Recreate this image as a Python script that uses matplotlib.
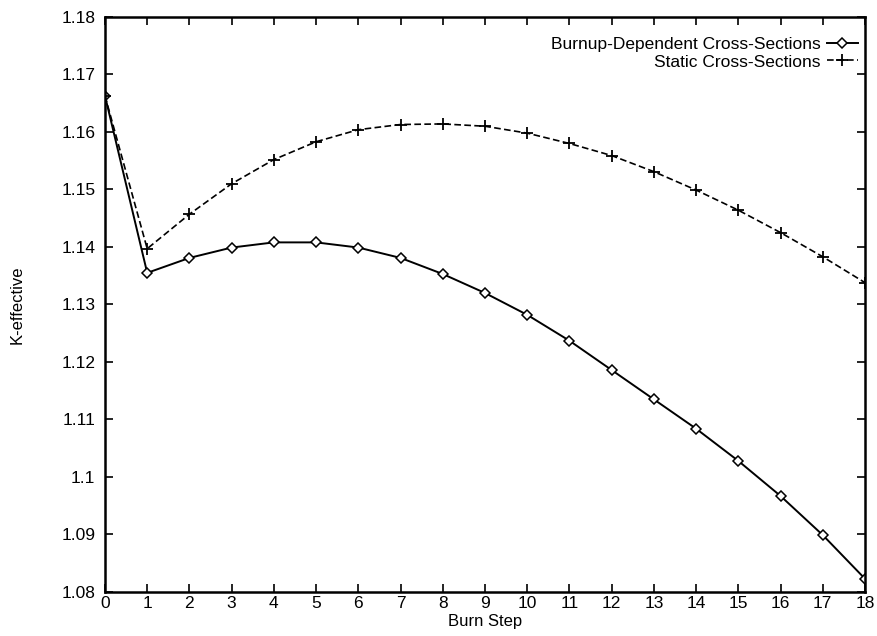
import matplotlib
matplotlib.use("Agg")
import matplotlib.pyplot as plt

steps = list(range(19))
burnup_dep = [1.1663, 1.1355, 1.1381, 1.1399, 1.1408, 1.1408, 1.1399, 1.1381, 1.1353,
              1.1320, 1.1282, 1.1237, 1.1186, 1.1135, 1.1084, 1.1028, 1.0967, 1.0899, 1.0823]
static_xs = [1.1663, 1.1397, 1.1457, 1.1510, 1.1552, 1.1583, 1.1604, 1.1613, 1.1614,
             1.1610, 1.1598, 1.1580, 1.1559, 1.1531, 1.1499, 1.1464, 1.1425, 1.1383, 1.1338]
yticks = [1.08, 1.09, 1.1, 1.11, 1.12, 1.13, 1.14, 1.15, 1.16, 1.17, 1.18]
ytick_labels = ["1.08", "1.09", "1.1", "1.11", "1.12", "1.13", "1.14", "1.15", "1.16", "1.17", "1.18"]

plt.rcParams['font.family'] = ['Liberation Sans', 'DejaVu Sans']

fig = plt.figure(figsize=(8.77, 6.36), dpi=100)
ax = fig.add_axes([0.1197, 0.0692, 0.8666, 0.9041])

ax.plot(steps, burnup_dep, color='black', linestyle='-', linewidth=1.4,
        marker='D', markersize=5, markerfacecolor='white', markeredgecolor='black',
        markeredgewidth=1.1, label='Burnup-Dependent Cross-Sections')
ax.plot(steps, static_xs, color='black', linestyle=(0, (4, 2)), linewidth=1.2,
        marker='+', markersize=9, markeredgewidth=1.3,
        label='Static Cross-Sections')

ax.set_xlim(0, 18)
ax.set_ylim(1.08, 1.18)
ax.set_xticks(steps)
ax.set_yticks(yticks)
ax.set_yticklabels(ytick_labels)
ax.tick_params(direction='in', top=True, right=True, length=6, width=1.2,
               labelsize=12.5)
ax.tick_params(axis='y', pad=7)
ax.tick_params(axis='x', pad=3)
for s in ax.spines.values():
    s.set_linewidth(1.8)

ax.set_xlabel('Burn Step', fontsize=12, labelpad=2)
ax.set_ylabel('K-effective', fontsize=12, labelpad=26)

leg = ax.legend(loc='upper right', bbox_to_anchor=(1.0, 0.977), frameon=False,
                markerfirst=False, fontsize=12.5, handlelength=1.8, handletextpad=0.35,
                labelspacing=0.12, borderaxespad=0.0, borderpad=0.4)
for t in leg.get_texts():
    t.set_ha('right')

fig.savefig('out.png', dpi=100)
